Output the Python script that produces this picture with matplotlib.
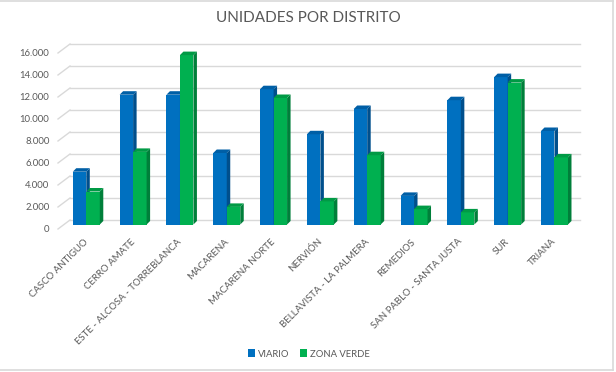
import numpy as np
import matplotlib
matplotlib.use("Agg")
import matplotlib.pyplot as plt
from matplotlib.patches import Polygon, Rectangle
from matplotlib.lines import Line2D
from matplotlib import transforms

distritos = ["CASCO ANTIGUO", "CERRO AMATE", "ESTE - ALCOSA - TORREBLANCA",
             "MACARENA", "MACARENA NORTE", "NERVIÓN", "BELLAVISTA - LA PALMERA",
             "REMEDIOS", "SAN PABLO - SANTA JUSTA", "SUR", "TRIANA"]
viario = [4800, 11800, 11800, 6500, 12300, 8200, 10500, 2600, 11300, 13400, 8500]
zona_verde = [3000, 6600, 15400, 1600, 11500, 2100, 6300, 1400, 1100, 12900, 6100]
y_ticks = list(range(0, 16001, 2000))
y_labels = ["0"] + [f"{v // 1000}.000" for v in y_ticks[1:]]

plt.rcParams["font.family"] = ["Lato", "DejaVu Sans"]
gris = "#595959"

W, H = 616, 372
fig = plt.figure(figsize=(W / 100, H / 100), dpi=100)
fig.patch.set_facecolor("white")

# zona de barras (plano medio del "3D")
x0, x1 = 64, 580
y_base, y_top = 224.5, 48.5
ax = fig.add_axes([x0 / W, (H - y_base) / H, (x1 - x0) / W, (y_base - y_top) / H])
xmin, xmax = -0.476, 10.545
ax.set_xlim(xmin, xmax)
ax.set_ylim(0, 16000)
for s in ax.spines.values():
    s.set_visible(False)
ax.set_facecolor("none")

# pixeles -> unidades de datos
ux = (xmax - xmin) / (x1 - x0)
uy = 16000 / (y_base - y_top)

# rejilla en perspectiva
gdx, gdy = 6 * ux, 4.5 * uy
for v in y_ticks:
    ax.plot([xmin + gdx, xmax], [v + gdy, v + gdy], color="#d9d9d9", lw=1.0, clip_on=False, zorder=0)
    ax.plot([xmin - gdx, xmin + gdx], [v - gdy, v + gdy], color="#d9d9d9", lw=1.0, clip_on=False, zorder=0)

ax.set_yticks(y_ticks)
ax.set_yticklabels(y_labels, fontsize=6.8, color=gris)
ax.tick_params(axis="y", length=0, pad=10.5)
off = transforms.ScaledTranslation(0, -4.5 / 100, fig.dpi_scale_trans)
for lab in ax.get_yticklabels():
    lab.set_transform(lab.get_transform() + off)

x = np.arange(len(distritos))
bw = 13.5 * ux
ddx, ddy = 3.5 * ux, 3.5 * uy

colores = [("#0070c0", "#004f8c", "#005fa6"), ("#00b050", "#007f3a", "#009a45")]


def barra_3d(xl, h, cols):
    front, side, top = cols
    ax.add_patch(Rectangle((xl, 0), bw, h, facecolor=front, edgecolor="none", zorder=3))
    ax.add_patch(Polygon([(xl + bw, 0), (xl + bw + ddx, ddy), (xl + bw + ddx, h + ddy), (xl + bw, h)],
                         closed=True, facecolor=side, edgecolor="none", zorder=3))
    ax.add_patch(Polygon([(xl, h), (xl + ddx, h + ddy), (xl + bw + ddx, h + ddy), (xl + bw, h)],
                         closed=True, facecolor=top, edgecolor="none", zorder=3))


for i in x:
    barra_3d(i - bw, viario[i], colores[0])
    barra_3d(i, zona_verde[i], colores[1])

ax.set_xticks(x)
ax.set_xticklabels(distritos, rotation=45, ha="right", va="top", rotation_mode="anchor",
                   fontsize=6.9, color=gris)
ax.tick_params(axis="x", length=0, pad=9)
offx = transforms.ScaledTranslation(-3 / 100, 0, fig.dpi_scale_trans)
for lab in ax.get_xticklabels():
    lab.set_transform(lab.get_transform() + offx)

fig.text(0.5, 1 - 18 / H, "UNIDADES POR DISTRITO", ha="center", va="center",
         fontsize=11, color=gris)

# leyenda
h1 = Rectangle((0, 0), 1, 1, facecolor=colores[0][0])
h2 = Rectangle((0, 0), 1, 1, facecolor=colores[1][0])
fig.legend([h1, h2], ["VIARIO", "ZONA VERDE"], loc="center", bbox_to_anchor=(309 / W, 1 - 354 / H),
           ncol=2, frameon=False, fontsize=6.8, labelcolor=gris, handlelength=0.7, handleheight=0.9,
           handletextpad=0.3, columnspacing=1.2)

# borde del grafico (arriba, derecha, abajo)
bx, by_top, by_bot = 612.5 / W, 1 - 0.5 / H, 1 - 370 / H
for xs, ys in [([0, bx], [by_top, by_top]), ([bx, bx], [by_top, by_bot]), ([0, bx], [by_bot, by_bot])]:
    fig.add_artist(Line2D(xs, ys, transform=fig.transFigure, color="#d9d9d9", lw=1.2))

fig.savefig("out.png", dpi=100)
